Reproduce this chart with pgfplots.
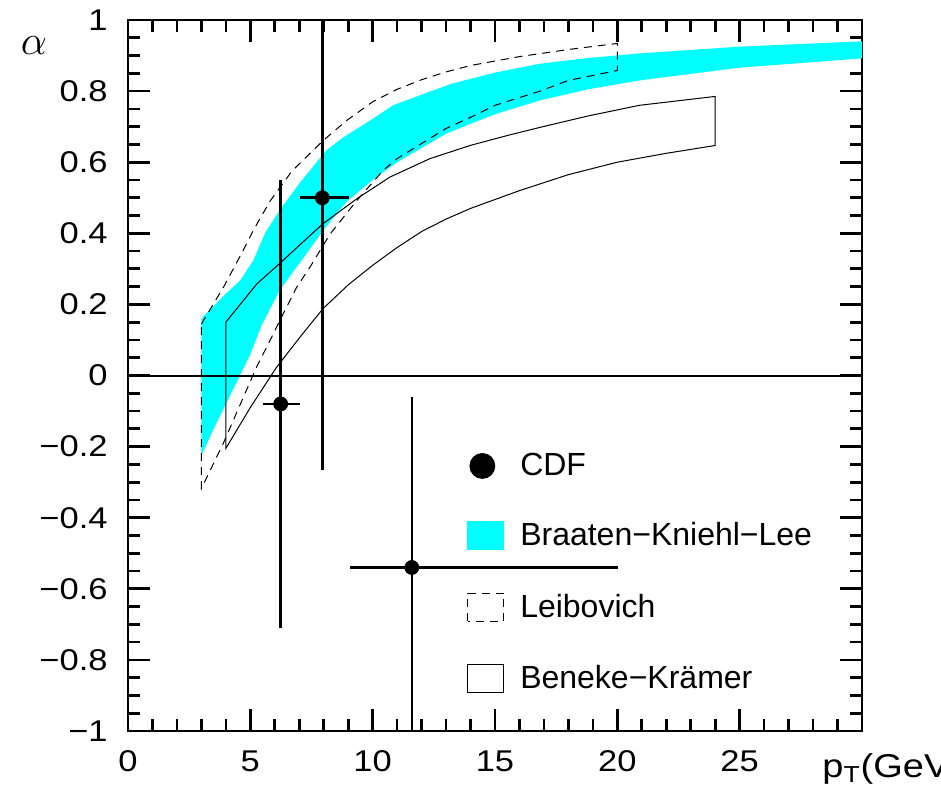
\documentclass[border=0pt]{standalone}
\usepackage{fontspec}
\setmainfont{Liberation Sans}
\newfontfamily\tickfont[FakeStretch=1.15]{Liberation Sans}
\usepackage{pgfplots}
\pgfplotsset{compat=1.18}
\definecolor{bkl}{RGB}{0,255,255}
\begin{document}
\begin{tikzpicture}
\begin{axis}[
  scale only axis, width=367pt, height=355.5pt,
  xmin=0, xmax=30, ymin=-1, ymax=1,
  axis line style={line width=1.35pt},
  every tick/.style={black, line width=1.35pt},
  tick align=inside,
  major tick length=11pt, minor tick length=6pt,
  xtick={0,5,10,15,20,25,30}, xticklabels={0,5,10,15,20,25,{}},
  minor x tick num=4,
  ytick={-1,-0.8,-0.6,-0.4,-0.2,0,0.2,0.4,0.6,0.8,1},
  yticklabels={−1,−0.8,−0.6,−0.4,−0.2,0,0.2,0.4,0.6,0.8,1},
  minor y tick num=3,
  ticklabel style={font=\tickfont\fontsize{15}{18}\selectfont, inner sep=0pt},
  xticklabel style={yshift=-9.5pt},
  yticklabel style={xshift=-10pt},
  legend style={draw=none, fill=none, at={(axis cs:13.85,-0.217)}, anchor=north west,
    inner sep=0pt, row sep=21.25pt, column sep=8pt,
    font=\fontsize{16}{19}\selectfont, nodes={inner sep=0pt}},
  legend cell align=left,
]
\coordinate (SW) at (rel axis cs:0,0);
\coordinate (NE) at (rel axis cs:1,1);
\coordinate (NW) at (rel axis cs:0,1);

\addlegendimage{legend image code/.code={\fill[black] (7.3pt,0pt) circle (6.25pt);}}
\addlegendentry{CDF}
\addlegendimage{legend image code/.code={\fill[bkl] (0pt,-7pt) rectangle (18pt,7pt);}}
\addlegendentry{Braaten−Kniehl−Lee}
\addlegendimage{legend image code/.code={\draw[black, line width=0.5pt, dash pattern=on 4pt off 3pt] (0pt,-7pt) rectangle (18pt,7pt);}}
\addlegendentry{Leibovich}
\addlegendimage{legend image code/.code={\draw[black, line width=0.5pt] (0pt,-7pt) rectangle (18pt,7pt);}}
\addlegendentry{Beneke−Krämer}

% Braaten-Kniehl-Lee band
\addplot[draw=none, fill=bkl, forget plot] coordinates {
(3,0.16)(3.5,0.195)(4,0.23)(4.58,0.267)(5.12,0.323)(5.6,0.40)(6.2,0.465)(7.0,0.54)
(8.1,0.633)(8.8,0.67)(9.89,0.717)(10.83,0.76)(12,0.79)(13.24,0.821)(15,0.852)
(16.84,0.877)(18.8,0.893)(20.9,0.906)(25,0.925)(30,0.94)
(30,0.892)(25,0.866)(20.9,0.83)(18.8,0.805)(16.84,0.774)(15,0.735)(14,0.708)
(13,0.68)(12,0.64)(11,0.60)(10,0.55)(8.95,0.49)(8,0.41)(7,0.315)(6.2,0.24)
(5.45,0.14)(5,0.06)(4.5,-0.01)(4,-0.08)(3.5,-0.15)(3,-0.225)
};

% Leibovich band
\addplot[black, line width=0.5pt, dash pattern=on 4pt off 3pt, forget plot] coordinates {
(3,0.145)(3.9,0.248)(4.71,0.352)(5.12,0.408)(5.8,0.49)(6.7,0.575)(7.98,0.661)
(8.93,0.717)(10,0.77)(11,0.805)(12,0.832)(13,0.854)(14,0.872)(16,0.897)(18,0.917)(20,0.934)
(20,0.858)(18,0.83)(16.84,0.80)(15,0.76)(14,0.726)(13,0.695)(12.2,0.661)(11,0.61)
(10.43,0.577)(9.35,0.492)(8.26,0.398)(7.44,0.305)(6.89,0.248)(6.21,0.155)(5.8,0.098)
(5.25,0.023)(4.5,-0.095)(3.9,-0.19)(3,-0.318)(3,0.145)
};

% Beneke-Kraemer band
\addplot[black, line width=0.5pt, forget plot] coordinates {
(4,0.15)(5.27,0.258)(6.2,0.315)(7.0,0.366)(7.97,0.427)(9.35,0.497)(10.7,0.558)
(12.34,0.61)(13.98,0.647)(15.5,0.675)(16.84,0.698)(18.8,0.73)(20.9,0.76)(24,0.785)
(24,0.647)(22,0.625)(20,0.60)(18,0.565)(16,0.52)(14,0.47)(13,0.44)(12,0.405)
(11,0.36)(10,0.31)(9,0.255)(7.97,0.188)(7.03,0.108)(6.07,0.023)(5,-0.09)(4,-0.205)(4,0.15)
};

% zero line
\addplot[black, line width=1pt, forget plot] coordinates {(0,0)(30,0)};

% CDF data
\addplot[black, only marks, mark=*, mark size=3.5pt, forget plot,
  error bars/.cd, x dir=both, x explicit, y dir=both, y explicit,
  error bar style={line width=1.3pt, black}, error mark=none]
  table[x=x, y=y, x error plus=exp, x error minus=exm, y error plus=eyp, y error minus=eym] {
x y exm exp eym eyp
6.24 -0.08 0.72 0.79 0.63 0.63
7.94 0.50 0.89 1.10 0.765 0.765
11.6 -0.54 2.53 8.42 0.48 0.48
};
\end{axis}
\node[inner sep=0pt] at ([shift={(-47pt,-13pt)}]NW) {\fontsize{20}{24}\selectfont$\alpha$};
\node[anchor=base west, inner sep=0pt] at ([shift={(347pt,-23pt)}]SW)
  {\tickfont\fontsize{16.5}{19}\selectfont p\textsubscript{T}(GeV/c)};
\pgfresetboundingbox
\path ([shift={(-64pt,-34pt)}]SW) rectangle ([shift={(39.5pt,10pt)}]NE);
\end{tikzpicture}
\end{document}
